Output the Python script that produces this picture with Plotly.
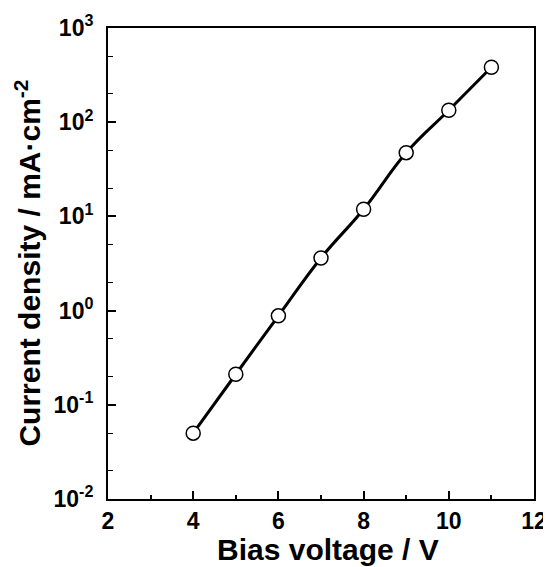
import plotly.graph_objects as go

voltage = [4, 5, 6, 7, 8, 9, 10, 11]
current_density = [0.050, 0.211, 0.88, 3.62, 11.9, 47.5, 134, 383]

y_tickvals = [1e-2, 1e-1, 1e0, 1e1, 1e2, 1e3]
y_ticktext = ["10<sup>-2</sup>", "10<sup>-1</sup>", "10<sup>0</sup>",
              "10<sup>1</sup>", "10<sup>2</sup>", "10<sup>3</sup>"]
x_tickvals = [2, 4, 6, 8, 10, 12]

x_title = "Bias voltage / V"
y_title = "Current density / mA\u00b7cm<sup>-2</sup>"

font_family = "Liberation Sans, Arial, sans-serif"

fig = go.Figure()
fig.add_trace(go.Scatter(
    x=voltage, y=current_density,
    mode="lines+markers",
    line=dict(color="black", width=3, shape="spline", smoothing=1.2),
    marker=dict(symbol="circle", size=14, color="white",
                line=dict(color="black", width=1.5)),
    showlegend=False,
))

# page body has an 8px margin, so the figure is sized to fill the rest
fig.update_layout(
    width=543, height=559,
    margin=dict(l=100, r=17, t=20, b=68, autoexpand=False),
    paper_bgcolor="white", plot_bgcolor="white",
    font=dict(family=font_family, color="black", size=22, weight="bold"),
)

fig.update_xaxes(
    range=[2, 12],
    tickvals=x_tickvals,
    ticks="inside", ticklen=8, tickwidth=1.5, tickcolor="black",
    minor=dict(dtick=1, tick0=1, ticks="inside", ticklen=4, tickwidth=1.5,
               tickcolor="black", showgrid=False),
    showline=True, linecolor="black", linewidth=2, mirror=True,
    showgrid=False, zeroline=False,
    ticklabelstandoff=0,
    tickfont=dict(size=23, family=font_family, weight="bold"),
)

fig.update_yaxes(
    type="log", range=[-2, 3],
    tickvals=y_tickvals, ticktext=y_ticktext,
    ticks="inside", ticklen=8, tickwidth=1.5, tickcolor="black",
    minor=dict(ticks="inside", ticklen=5, tickwidth=1.2, tickcolor="black",
               showgrid=False),
    showline=True, linecolor="black", linewidth=2, mirror=True,
    showgrid=False, zeroline=False,
    ticklabelstandoff=8,
    tickfont=dict(size=23, family=font_family, weight="bold"),
)

fig.add_annotation(
    text=x_title, xref="paper", yref="paper", x=0.516, y=-0.108,
    xanchor="center", yanchor="middle", showarrow=False,
    font=dict(size=30, family=font_family, weight="bold", color="black"),
)
fig.add_annotation(
    text=y_title, xref="paper", yref="paper", x=-0.19, y=0.5,
    xanchor="center", yanchor="middle", textangle=-90, showarrow=False,
    font=dict(size=30, family=font_family, weight="bold", color="black"),
)

fig.write_html("out.html")
